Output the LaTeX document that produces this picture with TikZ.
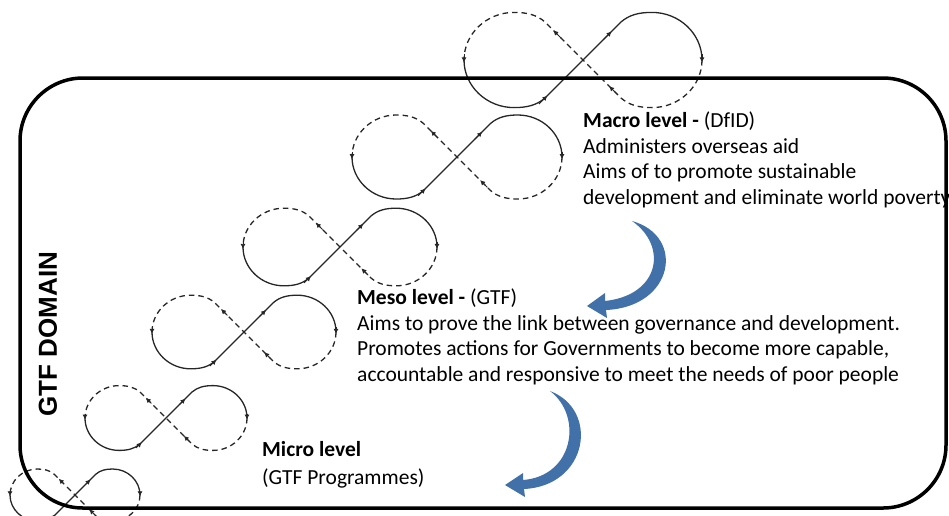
\documentclass[tikz,border=0pt]{standalone}
\usepackage{fontspec}
\setmainfont{Carlito}
\newfontfamily\domainfont{Liberation Sans}
\usetikzlibrary{arrows.meta}
\definecolor{arrowblue}{RGB}{66,113,170}
\tikzset{
  loopline/.style={line width=1.3pt,black!85},
  loopdash/.style={dash pattern=on 5.5pt off 4pt},
  looptip/.style={-{Latex[length=5pt,width=5pt]},line width=0.8pt,black!85},
  leveltext/.style={anchor=north west,align=left,inner sep=0pt,font=\fontsize{21.5}{25.5}\selectfont},
  turnarrow/.style={fill=arrowblue}
}

\begin{document}
\begin{tikzpicture}[x=1pt,y=-1pt]
  \useasboundingbox (0,0) rectangle (949,515);
  \clip (0,0) rectangle (949,515);
  % infinity loops, top right down to bottom left
  \foreach \cx/\cy/\sc in {583/60/119, 457/157/105, 340/247/97, 244/332/92, 166/418/81, 75/495/65} {
    \begin{scope}[shift={(\cx,\cy)},xscale=\sc,yscale=-\sc]
      \draw[loopline] (-1,0) .. controls (-1,-0.22) and (-0.81,-0.4) .. (-0.58,-0.4)
        .. controls (-0.47,-0.4) and (-0.39,-0.38) .. (-0.32,-0.32) -- (0.32,0.32)
        .. controls (0.39,0.38) and (0.47,0.4) .. (0.58,0.4)
        .. controls (0.81,0.4) and (1,0.22) .. (1,0);
      \draw[loopline,loopdash] (1,0) .. controls (1,-0.22) and (0.81,-0.4) .. (0.58,-0.4)
        .. controls (0.47,-0.4) and (0.39,-0.38) .. (0.32,-0.32) -- (-0.32,0.32)
        .. controls (-0.39,0.38) and (-0.47,0.4) .. (-0.58,0.4)
        .. controls (-0.81,0.4) and (-1,0.22) .. (-1,0);
      \draw[looptip] (-1,0.05) -- (-1,-0.02);
      \draw[looptip] (1,0.05) -- (1,-0.02);
      \draw[looptip] (-0.37,-0.37) -- (-0.3,-0.3);
      \draw[looptip] (0.17,0.17) -- (0.24,0.24);
      \draw[looptip] (0.29,-0.29) -- (0.22,-0.22);
      \draw[looptip] (-0.18,0.18) -- (-0.25,0.25);
    \end{scope}
  }
  % domain frame
  \draw[line width=3.5pt,rounded corners=63pt] (20,78) rectangle (946,508);
  \node[rotate=90,font=\domainfont\bfseries\fontsize{26}{26}\selectfont] (domain) at (48,334) {GTF DOMAIN};
  % levels
  \node[leveltext] (macro) at (583,112) {\textbf{Macro level -} (DfID)\\Administers overseas aid\\Aims of to promote sustainable\\development and eliminate world poverty};
  \node[leveltext] (meso) at (357,289) {\textbf{Meso level -} (GTF)\\Aims to prove the link between  governance and development.\\Promotes actions for Governments to become more capable,\\accountable and responsive to meet the needs of poor people};
  \node[leveltext,font=\fontsize{21.5}{28}\selectfont] (micro) at (262,441) {\textbf{Micro level}\\(GTF Programmes)};
  % blue turn arrows
  \coordinate (macroout) at (632,221);
  \coordinate (mesoin) at (587,306);
  \coordinate (mesoout) at (550,391);
  \coordinate (microin) at (505,485);
  \fill[turnarrow] (macroout) .. controls (686,236) and (674,307) .. (606,310) -- (607,318)
    -- (mesoin) -- (605,293) -- (605,301) .. controls (660,295) and (668,246) .. (macroout) -- cycle;
  \fill[turnarrow] (mesoout) .. controls (600,410) and (588,486) .. (524,489) -- (525,497)
    -- (microin) -- (523,473) -- (523,480) .. controls (574,476) and (583,416) .. (mesoout) -- cycle;
\end{tikzpicture}
\end{document}
